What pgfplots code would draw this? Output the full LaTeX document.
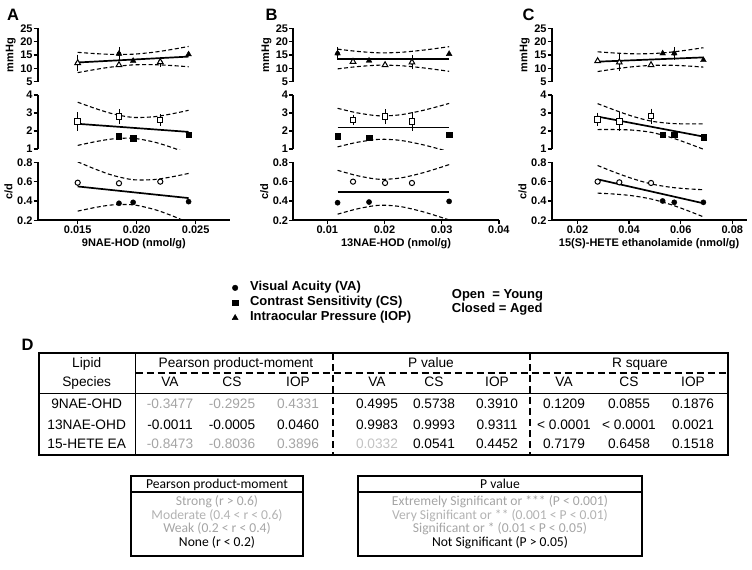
\documentclass[border=0pt]{standalone}
\usepackage{pgfplots}
\pgfplotsset{compat=1.18}
\usepackage{fontspec}
\setmainfont{Liberation Sans}
\newfontfamily\calibri{Carlito}
\definecolor{g1}{RGB}{165,165,165}
\definecolor{g2}{RGB}{195,195,195}
\definecolor{g3}{RGB}{178,178,178}
\pgfplotsset{
  seg/.style={scale only axis, clip mode=individual, scaled x ticks=false, scaled y ticks=false,
    axis line style={line width=1.9pt,-},
    tick align=outside, major tick length=4pt,
    tick style={black,line width=1.4pt},
    tick label style={font=\bfseries\fontsize{11}{12}\selectfont},
    yticklabel style={inner sep=1pt},
    xticklabel style={inner sep=1.5pt},
    label style={font=\bfseries\fontsize{11}{13}\selectfont},
    axis y line*=left},
  top/.style={seg, axis x line=none, height=53.4pt, ymin=5, ymax=25, ytick={5,10,15,20,25}, yticklabels={5,10,15,20,25}, ylabel={mmHg}},
  mid/.style={seg, axis x line=none, height=54pt, ymin=1, ymax=4, ytick={1,2,3,4}, yticklabels={1,2,3,4}},
  bot/.style={seg, axis x line*=bottom, height=58pt, ymin=0.2, ymax=0.8, ytick={0.2,0.4,0.6,0.8}, yticklabels={0.2,0.4,0.6,0.8}, ylabel={c/d}},
  reg/.style={black, line width=1.7pt, no marks},
  bnd/.style={black, line width=1.1pt, dash pattern=on 4pt off 2.5pt, smooth, no marks},
  eb/.style={only marks, mark=none, error bars/.cd, y dir=both, y explicit, error bar style={black, line width=0.9pt}, error mark options={black, line width=0.9pt, mark size=3pt}},
  yng/.style={only marks, mark options={fill=white, draw=black, line width=1pt}},
  agd/.style={only marks, mark options={fill=black, draw=black}},
  ci/.style={mark=*, mark size=2.6pt},
  sq/.style={mark=square*, mark size=2.7pt},
  tr/.style={mark=triangle*, mark size=3.3pt},
}
\begin{document}
\begin{tikzpicture}
\path[use as bounding box] (0pt,0pt) rectangle (752pt,-570pt);
% ================= Panel A =================
\begin{axis}[top, at={(37.7pt,-81.7pt)}, anchor=south west, width=192.3pt, xmin=0.01161, xmax=0.02791]
\addplot[bnd] coordinates {(0.015,16.0)(0.0165,15.52)(0.018,15.22)(0.0197,15.3)(0.0215,16.07)(0.023,17.09)(0.0244,18.2)};
\addplot[bnd] coordinates {(0.015,8.4)(0.0165,9.58)(0.018,10.58)(0.0197,11.3)(0.0215,11.37)(0.023,11.05)(0.0244,10.6)};
\addplot[reg] coordinates {(0.015,12.2)(0.0244,14.4)};
\addplot[eb] coordinates {(0.015,12.0) +- (0,2.0) (0.022,12.4) +- (0,0.8) (0.0185,15.5) +- (0,1.4)};
\addplot[yng,tr] coordinates {(0.015,12.0)(0.0185,11.25)(0.022,12.4)};
\addplot[agd,tr] coordinates {(0.0185,15.5)(0.0197,12.8)(0.0244,15.25)};
\end{axis}
\begin{axis}[mid, at={(37.7pt,-149pt)}, anchor=south west, width=192.3pt, xmin=0.01161, xmax=0.02791]
\addplot[bnd] coordinates {(0.015,3.60)(0.0165,3.25)(0.018,2.95)(0.0197,2.755)(0.0215,2.795)(0.023,2.955)(0.0244,3.15)};
\addplot[bnd] coordinates {(0.015,1.20)(0.0165,1.407)(0.018,1.563)(0.0197,1.595)(0.0215,1.383)(0.023,1.079)(0.0244,0.75)};
\addplot[reg] coordinates {(0.015,2.40)(0.0244,1.95)};
\addplot[eb] coordinates {(0.015,2.52) +- (0,0.35) (0.0185,2.8) +- (0,0.25) (0.022,2.61) +- (0,0.15)};
\addplot[yng,sq] coordinates {(0.015,2.52)(0.0185,2.8)(0.022,2.61)};
\addplot[agd,sq] coordinates {(0.0185,1.72)(0.0197,1.59)(0.0244,1.78)};
\end{axis}
\begin{axis}[bot, at={(37.7pt,-220.3pt)}, anchor=south west, width=192.3pt, xmin=0.01161, xmax=0.02791,
  xtick={0.015,0.02,0.025}, xticklabels={0.015,0.020,0.025}, xlabel={9NAE-HOD (nmol/g)}]
\addplot[bnd] coordinates {(0.015,0.805)(0.0165,0.729)(0.018,0.664)(0.0197,0.62)(0.0215,0.622)(0.023,0.65)(0.0244,0.685)};
\addplot[bnd] coordinates {(0.015,0.295)(0.0165,0.333)(0.018,0.360)(0.0197,0.36)(0.0215,0.312)(0.023,0.247)(0.0244,0.175)};
\addplot[reg] coordinates {(0.015,0.55)(0.0244,0.43)};
\addplot[yng,ci] coordinates {(0.015,0.589)(0.0185,0.583)(0.022,0.60)};
\addplot[agd,ci] coordinates {(0.0185,0.376)(0.0197,0.386)(0.0244,0.393)};
\end{axis}
% ================= Panel B =================
\begin{axis}[top, at={(293.3pt,-81.7pt)}, anchor=south west, width=205.6pt, xmin=0.00406, xmax=0.04]
\addplot[bnd] coordinates {(0.0118,17.2)(0.015,16.4)(0.018,15.91)(0.02,15.8)(0.023,16.03)(0.027,16.88)(0.0313,18.11)};
\addplot[bnd] coordinates {(0.0118,9.8)(0.015,10.6)(0.018,11.09)(0.02,11.2)(0.023,10.97)(0.027,10.12)(0.0313,8.89)};
\addplot[reg] coordinates {(0.0118,13.5)(0.0313,13.5)};
\addplot[eb] coordinates {(0.0248,12.25) +- (0,1.5) (0.0118,15.6) +- (0,1.3)};
\addplot[yng,tr] coordinates {(0.0145,12.5)(0.0201,11.25)(0.0248,12.25)};
\addplot[agd,tr] coordinates {(0.0118,15.6)(0.0173,12.9)(0.0313,15.4)};
\end{axis}
\begin{axis}[mid, at={(293.3pt,-149pt)}, anchor=south west, width=205.6pt, xmin=0.00406, xmax=0.04]
\addplot[bnd] coordinates {(0.0118,3.262)(0.015,3.022)(0.018,2.872)(0.02,2.84)(0.023,2.911)(0.027,3.165)(0.0313,3.532)};
\addplot[bnd] coordinates {(0.0118,1.118)(0.015,1.358)(0.018,1.508)(0.02,1.54)(0.023,1.469)(0.027,1.215)(0.0313,0.848)};
\addplot[reg] coordinates {(0.0118,2.19)(0.0313,2.19)};
\addplot[eb] coordinates {(0.0145,2.61) +- (0,0.12) (0.0201,2.80) +- (0,0.25) (0.0248,2.52) +- (0,0.35)};
\addplot[yng,sq] coordinates {(0.0145,2.61)(0.0201,2.80)(0.0248,2.52)};
\addplot[agd,sq] coordinates {(0.0118,1.72)(0.0173,1.63)(0.0313,1.78)};
\end{axis}
\begin{axis}[bot, at={(293.3pt,-220.3pt)}, anchor=south west, width=205.6pt, xmin=0.00406, xmax=0.04,
  xtick={0.01,0.02,0.03,0.04}, xticklabels={0.01,0.02,0.03,0.04}, xlabel={13NAE-HOD (nmol/g)}]
\addplot[bnd] coordinates {(0.0118,0.717)(0.015,0.665)(0.018,0.631)(0.02,0.624)(0.023,0.64)(0.027,0.696)(0.0313,0.776)};
\addplot[bnd] coordinates {(0.0118,0.263)(0.015,0.315)(0.018,0.349)(0.02,0.356)(0.023,0.34)(0.027,0.284)(0.0313,0.204)};
\addplot[reg] coordinates {(0.0118,0.49)(0.0313,0.49)};
\addplot[yng,ci] coordinates {(0.0145,0.60)(0.0201,0.586)(0.0248,0.586)};
\addplot[agd,ci] coordinates {(0.0118,0.382)(0.0173,0.389)(0.0313,0.396)};
\end{axis}
% ================= Panel C =================
\begin{axis}[top, at={(551.7pt,-81.7pt)}, anchor=south west, width=194.8pt, xmin=0.01, xmax=0.0855]
\addplot[bnd] coordinates {(0.0278,16.2)(0.034,15.77)(0.041,15.47)(0.0486,15.51)(0.056,16.05)(0.062,16.76)(0.0688,17.73)};
\addplot[bnd] coordinates {(0.0278,8.8)(0.034,9.71)(0.041,10.56)(0.0486,11.11)(0.056,11.16)(0.062,10.92)(0.0688,10.47)};
\addplot[reg] coordinates {(0.0278,12.5)(0.0688,14.1)};
\addplot[eb] coordinates {(0.0362,12.25) +- (0,2.0) (0.0575,15.6) +- (0,1.3)};
\addplot[yng,tr] coordinates {(0.0278,12.75)(0.0362,12.25)(0.0485,11.25)};
\addplot[agd,tr] coordinates {(0.053,15.6)(0.0575,15.6)(0.0688,13.1)};
\end{axis}
\begin{axis}[mid, at={(551.7pt,-149pt)}, anchor=south west, width=194.8pt, xmin=0.01, xmax=0.0855]
\addplot[bnd] coordinates {(0.0278,3.52)(0.034,3.183)(0.041,2.833)(0.0486,2.546)(0.056,2.423)(0.062,2.394)(0.0688,2.393)};
\addplot[bnd] coordinates {(0.0278,2.08)(0.034,2.081)(0.041,2.053)(0.0486,1.926)(0.056,1.649)(0.062,1.354)(0.0688,0.987)};
\addplot[reg] coordinates {(0.0278,2.8)(0.0688,1.69)};
\addplot[eb] coordinates {(0.0278,2.65) +- (0,0.2) (0.0362,2.52) +- (0,0.35) (0.0485,2.83) +- (0,0.25)};
\addplot[yng,sq] coordinates {(0.0278,2.65)(0.0362,2.52)(0.0485,2.83)};
\addplot[agd,sq] coordinates {(0.053,1.78)(0.0575,1.78)(0.0688,1.65)};
\end{axis}
\begin{axis}[bot, at={(551.7pt,-220.3pt)}, anchor=south west, width=194.8pt, xmin=0.01, xmax=0.0855,
  xtick={0.02,0.04,0.06,0.08}, xticklabels={0.02,0.04,0.06,0.08}, xlabel={15(S)-HETE ethanolamide (nmol/g)}]
\addplot[bnd] coordinates {(0.0278,0.767)(0.034,0.701)(0.041,0.634)(0.0486,0.576)(0.056,0.542)(0.062,0.527)(0.0688,0.516)};
\addplot[bnd] coordinates {(0.0278,0.481)(0.034,0.472)(0.041,0.455)(0.0486,0.42)(0.056,0.364)(0.062,0.307)(0.0688,0.236)};
\addplot[reg] coordinates {(0.0278,0.624)(0.0688,0.376)};
\addplot[yng,ci] coordinates {(0.0278,0.60)(0.0362,0.593)(0.0485,0.586)};
\addplot[agd,ci] coordinates {(0.053,0.40)(0.0575,0.386)(0.0688,0.386)};
\end{axis}
% ================= Legend =================
\begin{axis}[hide axis, scale only axis, width=80pt, height=40pt, at={(232.2pt,-321.35pt)}, anchor=south west,
  xmin=0, xmax=1, ymin=0, ymax=1,
  legend style={at={(0,1)}, anchor=north west, draw=none, fill=none, inner sep=0pt, outer sep=0pt,
    row sep=2pt, font=\bfseries\fontsize{13}{15}\selectfont,
    nodes={inner sep=0pt, text height=9.3pt, text depth=3.7pt},
    /tikz/every odd column/.append style={column sep=12pt}},
  legend cell align=left,
  legend image code/.code={\draw[#1] plot coordinates {(0pt,0pt)};}]
\addlegendimage{only marks, mark=*, black, mark size=2.8pt}
\addlegendentry{Visual Acuity (VA)}
\addlegendimage{only marks, mark=square*, black, mark size=2.8pt}
\addlegendentry{Contrast Sensitivity (CS)}
\addlegendimage{only marks, mark=triangle*, black, mark size=3.4pt}
\addlegendentry{Intraocular Pressure (IOP)}
\end{axis}
\begin{scope}[x=1pt, y=-1pt]
\tikzset{lg/.style={font=\bfseries\fontsize{13}{15}\selectfont, inner sep=0pt, text height=9.3pt, text depth=0pt, anchor=west},
  pl/.style={font=\bfseries\fontsize{16.5}{18}\selectfont, inner sep=0pt, text height=11.8pt, text depth=0pt},
  tb/.style={font=\fontsize{13.7}{15}\selectfont, inner sep=0pt, text height=9.8pt, text depth=0pt},
  cb/.style={font=\calibri\fontsize{13.6}{15}\selectfont, inner sep=0pt, text height=8.8pt, text depth=0pt}}
\node[lg] at (451.7,294) {Open\ \ = Young};
\node[lg] at (451.7,308.3) {Closed = Aged};
\node[pl] at (13.2,14.2) {A};
\node[pl] at (271.7,14.2) {B};
\node[pl] at (528.5,14.2) {C};
\node[pl] at (27.5,344.7) {D};
% ---- table D ----
\draw[line width=1.3pt] (135.7,353.3) -- (135.7,455);
\draw[line width=1.3pt] (39.3,393.3) -- (728.3,393.3);
\draw[line width=1.6pt, dash pattern=on 7pt off 4pt] (135.7,372.7) -- (728.3,372.7);
\draw[line width=1.8pt, dash pattern=on 7pt off 4pt] (332.7,353.3) -- (332.7,455);
\draw[line width=1.8pt, dash pattern=on 7pt off 4pt] (530,353.3) -- (530,455);
\draw[line width=2pt] (39.3,353.3) rectangle (728.3,455);
\node[tb] at (86.7,362.3) {Lipid};
\node[tb] at (86.7,381.7) {Species};
\node[tb] at (236,362.3) {Pearson product-moment};
\node[tb] at (431,362.3) {P value};
\node[tb] at (640,362.3) {R square};
\foreach \x/\t in {170/VA,232/CS,298/IOP,377/VA,434/CS,497/IOP,564/VA,629/CS,693/IOP}
  \node[tb] at (\x,381.7) {\t};
\node[tb] at (86.7,404) {9NAE-OHD};
\node[tb] at (86.7,424.3) {13NAE-OHD};
\node[tb] at (86.7,443.3) {15-HETE EA};
\node[tb,g1] at (170,404) {-0.3477};
\node[tb,g1] at (232,404) {-0.2925};
\node[tb,g1] at (298,404) {0.4331};
\node[tb] at (377,404) {0.4995};
\node[tb] at (434,404) {0.5738};
\node[tb] at (497,404) {0.3910};
\node[tb] at (564,404) {0.1209};
\node[tb] at (629,404) {0.0855};
\node[tb] at (693,404) {0.1876};
\node[tb] at (170,424.3) {-0.0011};
\node[tb] at (232,424.3) {-0.0005};
\node[tb] at (298,424.3) {0.0460};
\node[tb] at (377,424.3) {0.9983};
\node[tb] at (434,424.3) {0.9993};
\node[tb] at (497,424.3) {0.9311};
\node[tb] at (564,424.3) {< 0.0001};
\node[tb] at (629,424.3) {< 0.0001};
\node[tb] at (693,424.3) {0.0021};
\node[tb,g1] at (170,443.3) {-0.8473};
\node[tb,g1] at (232,443.3) {-0.8036};
\node[tb,g1] at (298,443.3) {0.3896};
\node[tb,g2] at (377,443.3) {0.0332};
\node[tb] at (434,443.3) {0.0541};
\node[tb] at (497,443.3) {0.4452};
\node[tb] at (564,443.3) {0.7179};
\node[tb] at (629,443.3) {0.6458};
\node[tb] at (693,443.3) {0.1518};
% ---- legend boxes ----
\draw[line width=1.8pt] (131,476) rectangle (303,556);
\draw[line width=1.3pt] (131,492) -- (303,492);
\node[cb] at (217,484) {Pearson product-moment};
\node[cb,g1] at (217,501.5) {Strong (r > 0.6)};
\node[cb,g3] at (217,514.8) {Moderate (0.4 < r < 0.6)};
\node[cb,g1] at (217,528.2) {Weak (0.2 < r < 0.4)};
\node[cb] at (217,541.6) {None (r < 0.2)};
\draw[line width=1.8pt] (358,476) rectangle (642,556);
\draw[line width=1.3pt] (358,492) -- (642,492);
\node[cb] at (500,484) {P value};
\node[cb,g1] at (500,501.5) {Extremely Significant or *** (P < 0.001)};
\node[cb,g3] at (500,514.8) {Very Significant or ** (0.001 < P < 0.01)};
\node[cb,g1] at (500,528.2) {Significant or * (0.01 < P < 0.05)};
\node[cb] at (500,541.6) {Not Significant (P > 0.05)};
\end{scope}
\end{tikzpicture}
\end{document}
